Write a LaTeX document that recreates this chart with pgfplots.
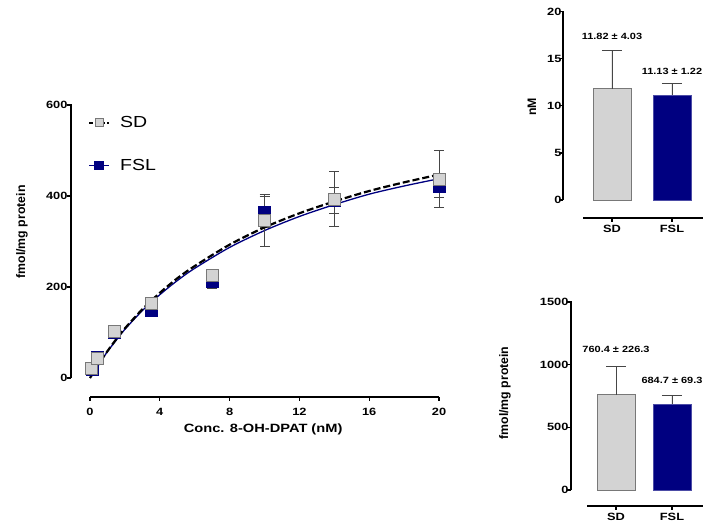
\documentclass[border=0pt]{standalone}
\usepackage{pgfplots}
\pgfplotsset{compat=1.18}
\usepackage{pgfplotstable}
\usepackage{fontspec}
\setmainfont{Liberation Sans}
\newfontfamily\wfont[FakeStretch=1.22]{Liberation Sans}

\definecolor{sdgray}{RGB}{211,211,211}
\definecolor{sdedge}{RGB}{120,120,120}
\definecolor{fslblue}{RGB}{0,0,128}
\definecolor{errgray}{RGB}{70,70,70}

% saturation binding points (mean, sem)
\pgfplotstableread{
x    y    e
0.1  22   0
0.4  42   0
1.4  103  0
3.5  165  0
7    226  0
10   347  57
14   393  60
20   437  63
}\sd
\pgfplotstableread{
x    y    e
0.1  20   0
0.4  45   0
1.4  100  0
3.5  150  0
7    213  16
10   365  35
14   390  28
20   421  25
}\fsl
% fitted curves
\pgfplotstableread{
x    s    f
0    0    0
0.5  31   30
1    59   58
1.5  85   83
2    109  107
3    151  148
4    187  183
5    219  214
6    246  241
8    293  287
10   331  324
12   362  355
14   388  381
16   411  404
18   430  422
20   447  438
}\fit

\pgfplotsset{
  gp/.style={
    scale only axis, clip=false,
    axis lines=left, axis line style={draw=none},
    tick align=outside, major tick length=4pt,
    major tick style={draw=none},
    /pgf/number format/assume math mode=true,
    /pgf/number format/1000 sep={},
    scaled y ticks=false,
    tick label style={font=\wfont\fontsize{10.5}{12}\selectfont\bfseries},
    label style={font=\fontsize{12.3}{14}\selectfont\bfseries},
  },
  error bars/errs/.style={error bar style={errgray, line width=0.8pt},
    error mark options={rotate=90, mark size=#1, errgray, line width=0.8pt}},
}
\tikzset{ax/.style={line width=1.3pt, black},
  ann/.style={font=\wfont\fontsize{9}{11}\selectfont\bfseries}}

\begin{document}
\begin{tikzpicture}
\useasboundingbox (0pt,0pt) rectangle (708pt,529pt);

% main saturation plot
\begin{axis}[gp, name=main,
  at={(90pt,151pt)}, anchor=south west,
  width=349pt, height=273pt,
  xmin=0, xmax=20, ymin=0, ymax=600,
  xticklabel shift=23pt, yticklabel shift=15pt,
  xtick={0,4,...,20}, ytick={0,200,400,600},
  xlabel={Conc. 8-OH-DPAT (nM)},
  ylabel={fmol/mg protein},
  xlabel style={at={(axis description cs:0.496,-0.19)}, anchor=center, font=\wfont\fontsize{12}{14}\selectfont\bfseries},
  ylabel style={at={(axis description cs:-0.195,0.535)}, anchor=center},
  legend cell align=left,
  legend style={draw=none, fill=none, at={(axis description cs:-0.006,0.857)}, anchor=west,
    font=\wfont\fontsize{16}{19}\selectfont, row sep=26pt, inner sep=0pt,
    /tikz/column 1/.style={column sep=8pt}},
  legend image code/.code={\draw[mark repeat=2,mark phase=2,#1] plot coordinates {(0pt,0pt) (10pt,0pt) (20pt,0pt)};},
]
\pgfplotsinvokeforeach{0,4,8,12,16,20}{\draw[ax] (axis cs:#1,-41.76) -- (axis cs:#1,-50.55);}
\pgfplotsinvokeforeach{0,200,400,600}{\draw[ax] (axis cs:-1.0888,#1) -- (axis cs:-1.318,#1);}
\addplot[forget plot, fslblue, line width=1.3pt, smooth] table[x=x, y=f]{\fit};
\addplot[forget plot, only marks, mark=square*, mark size=6pt,
  mark options={fill=fslblue, draw=fslblue},
  error bars/.cd, y dir=both, y explicit, errs=5pt]
  table[x=x, y=y, y error=e]{\fsl};
\addplot[forget plot, only marks, mark=square*, mark size=6pt,
  mark options={fill=sdgray, draw=sdedge, line width=0.8pt},
  error bars/.cd, y dir=both, y explicit, errs=5pt]
  table[x=x, y=y, y error=e]{\sd};
\addplot[forget plot, black, line width=2.2pt, dash pattern=on 7pt off 3pt, smooth] table[x=x, y=s]{\fit};
\addlegendimage{black, line width=2pt, dash pattern=on 4pt off 2pt, mark=square*, mark size=4pt,
  mark options={solid, fill=sdgray, draw=sdedge, line width=0.8pt}}
\addlegendentry{SD}
\addlegendimage{fslblue, line width=1.3pt, mark=square*, mark size=4pt,
  mark options={solid, fill=fslblue, draw=fslblue}}
\addlegendentry{FSL}
\end{axis}
\draw[ax] ([yshift=-19pt]main.south west) -- ([yshift=-19pt]main.south east);
\fill[black] ([xshift=-19.65pt]main.south west) rectangle ([xshift=-18.35pt, yshift=0.65pt]main.north west);

% Kd bars
\begin{axis}[gp, name=kd,
  at={(583pt,329pt)}, anchor=south west,
  width=120pt, height=188.3pt,
  xmin=-0.483, xmax=1.517, ymin=0, ymax=20,
  xticklabel shift=18pt, yticklabel shift=14pt,
  xtick={0,1}, xticklabels={SD,FSL},
  xticklabel style={font=\wfont\fontsize{10.5}{12}\selectfont\bfseries},
  ytick={0,5,...,20},
  ylabel={nM},
  ylabel style={at={(axis description cs:-0.425,0.494)}, anchor=center},
]
\pgfplotsinvokeforeach{0,1}{\draw[ax] (axis cs:#1,-1.912) -- (axis cs:#1,-2.337);}
\pgfplotsinvokeforeach{0,5,10,15,20}{\draw[ax] (axis cs:-0.8163,#1) -- (axis cs:-0.883,#1);}
\addplot[ybar, bar width=38pt, bar shift=0pt, fill=sdgray, draw=sdedge, line width=0.8pt,
  error bars/.cd, y dir=plus, y explicit, errs=10pt]
  coordinates {(0,11.82) +- (0,4.03)};
\addplot[ybar, bar width=38pt, bar shift=0pt, fill=fslblue, draw=fslblue!70!white, line width=0.8pt,
  error bars/.cd, y dir=plus, y explicit, errs=10pt]
  coordinates {(1,11.13) +- (0,1.22)};
\node[ann] at (axis cs:0,17.35) {11.82 ± 4.03};
\node[ann] at (axis cs:1,13.7) {11.13 ± 1.22};
\end{axis}
\draw[ax] ([yshift=-18pt]kd.south west) -- ([yshift=-18pt]kd.south east);
\fill[black] ([xshift=-20.65pt]kd.south west) rectangle ([xshift=-19.35pt, yshift=0.65pt]kd.north west);

% Bmax bars
\begin{axis}[gp, name=bm,
  at={(587pt,39pt)}, anchor=south west,
  width=116pt, height=188pt,
  xmin=-0.518, xmax=1.554, ymin=0, ymax=1500,
  xticklabel shift=16pt, yticklabel shift=11pt,
  xtick={0,1}, xticklabels={SD,FSL},
  xticklabel style={font=\wfont\fontsize{10.5}{12}\selectfont\bfseries},
  ytick={0,500,1000,1500},
  ylabel={fmol/mg protein},
  ylabel style={at={(axis description cs:-0.707,0.516)}, anchor=center},
]
\pgfplotsinvokeforeach{0,1}{\draw[ax] (axis cs:#1,-127.66) -- (axis cs:#1,-159.6);}
\pgfplotsinvokeforeach{0,500,1000,1500}{\draw[ax] (axis cs:-0.8038,#1) -- (axis cs:-0.8753,#1);}
\addplot[ybar, bar width=38pt, bar shift=0pt, fill=sdgray, draw=sdedge, line width=0.8pt,
  error bars/.cd, y dir=plus, y explicit, errs=10pt]
  coordinates {(0,760.4) +- (0,226.3)};
\addplot[ybar, bar width=38pt, bar shift=0pt, fill=fslblue, draw=fslblue!70!white, line width=0.8pt,
  error bars/.cd, y dir=plus, y explicit, errs=10pt]
  coordinates {(1,684.7) +- (0,69.3)};
\node[ann] at (axis cs:0,1125) {760.4 ± 226.3};
\node[ann] at (axis cs:1,878) {684.7 ± 69.3};
\end{axis}
\draw[ax] ([yshift=-16pt]bm.south west) -- ([yshift=-16pt]bm.south east);
\fill[black] ([xshift=-16.65pt]bm.south west) rectangle ([xshift=-15.35pt, yshift=0.65pt]bm.north west);
\end{tikzpicture}
\end{document}
